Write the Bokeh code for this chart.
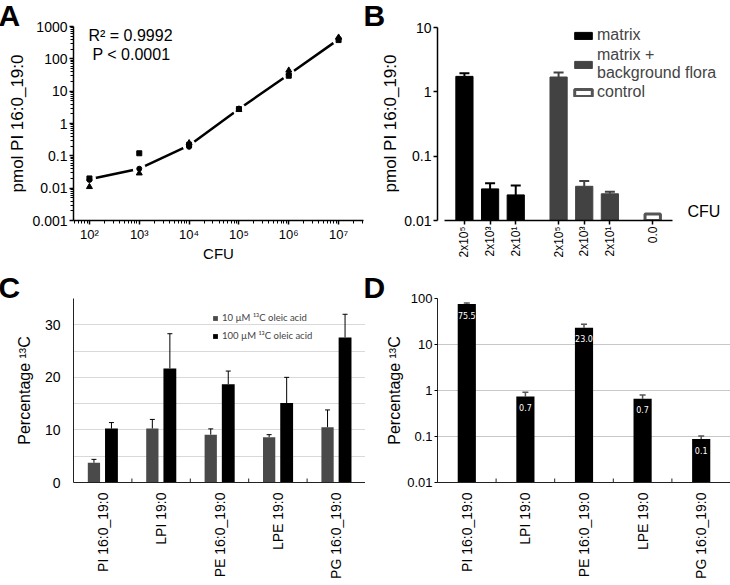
import numpy as np
from bokeh.plotting import figure
from bokeh.layouts import column, row
from bokeh.models import (FactorRange, FixedTicker, Whisker, TeeHead, ColumnDataSource,
                          Label, Legend, LegendItem)
from bokeh.transform import dodge
from bokeh.embed import file_html
from bokeh.resources import INLINE
from bokeh.core.properties import value

FONT = "Liberation Sans"

# ---------------- data: panel A ----------------
a_cfu = [1e2, 1e3, 1e4, 1e5, 1e6, 1e7]
a_rep_square = [0.020, 0.120, 0.22, 2.8, 30, 380]
a_rep_circle = [0.018, 0.040, 0.19, 2.9, 33, 420]
a_rep_triangle = [0.011, 0.029, 0.25, 2.7, 44, 460]
a_fit = [0.019, 0.040, 0.21, 2.8, 33, 400]
a_xticks = [1e2, 1e3, 1e4, 1e5, 1e6, 1e7]
a_xtick_labels = ["10²", "10³", "10⁴", "10⁵", "10⁶", "10⁷"]
a_yticks = [0.001, 0.01, 0.1, 1, 10, 100, 1000]
a_ytick_labels = ["0.001", "0.01", "0.1", "1", "10", "100", "1000"]
a_r2 = "R² = 0.9992"
a_p = "P  < 0.0001"

# ---------------- data: panel B ----------------
b_cfu_labels = ["2x10⁵", "2x10³", "2x10¹"]
b_matrix = [1.74, 0.031, 0.025]
b_matrix_err = [1.95, 0.038, 0.035]
b_mbf = [1.70, 0.034, 0.026]
b_mbf_err = [2.0, 0.041, 0.028]
b_control_label = ["0.0"]
b_control = [0.0126]
b_yticks = [0.01, 0.1, 1, 10]
b_ytick_labels = ["0.01", "0.1", "1", "10"]
b_series = ["matrix", "matrix +\nbackground flora", "control"]

# ---------------- data: panel C ----------------
c_lipids = ["PI 16:0_19:0", "LPI 19:0", "PE 16:0_19:0", "LPE 19:0", "PG 16:0_19:0"]
c_10uM = [3.75, 10.25, 9.1, 8.6, 10.5]
c_10uM_err = [4.4, 12.0, 10.2, 9.1, 13.8]
c_100uM = [10.25, 21.7, 18.7, 15.1, 27.6]
c_100uM_err = [11.4, 28.3, 21.2, 20.0, 32.0]
c_series = ["10 µM ¹³C oleic acid", "100 µM ¹³C oleic acid"]
c_yticks = [0, 10, 20, 30]
c_ygrid = [5, 10, 15, 20, 25, 30]

# ---------------- data: panel D ----------------
d_lipids = ["PI 16:0_19:0", "LPI 19:0", "PE 16:0_19:0", "LPE 19:0", "PG 16:0_19:0"]
d_pct = [75.5, 0.74, 23.0, 0.66, 0.088]
d_pct_err = [80.0, 0.92, 27.5, 0.80, 0.103]
d_yticks = [0.01, 0.1, 1, 10, 100]
d_ytick_labels = ["0.01", "0.1", "1", "10", "100"]

W = 365
H1 = 264
H2 = 321


def base_style(p):
    p.outline_line_color = None
    p.background_fill_color = "white"
    p.border_fill_color = "white"


def style_axis(ax, size="14px", label_size="17px"):
    ax.major_label_text_font = FONT
    ax.major_label_text_font_size = size
    ax.major_label_text_color = "black"
    ax.axis_label_text_font = FONT
    ax.axis_label_text_font_size = label_size
    ax.axis_label_text_font_style = "normal"
    ax.axis_label_text_color = "black"
    ax.axis_line_color = "black"


def screen_label(p, txt, x, y, size, baseline="middle"):
    p.add_layout(Label(x=x, y=y, x_units="screen", y_units="screen", text=txt,
                       text_font=FONT, text_font_size=size, text_baseline=baseline,
                       text_align="left", text_color="black"))


def letter(p, txt, offset):
    t = p.title
    t.text = txt
    t.align = "left"
    t.offset = offset
    t.standoff = -12
    t.vertical_align = "middle"
    t.text_font = FONT
    t.text_font_size = "30px"
    t.text_font_style = "bold"
    t.text_color = "black"


def legend_box(items, loc, **kw):
    return Legend(items=items, location=loc, padding=0, margin=0,
                  border_line_color=None, background_fill_alpha=0, **kw)


# ================= Panel A =================
pA = figure(width=W, height=H1, x_axis_type="log", y_axis_type="log",
            x_range=(10 ** 1.68, 10 ** 7.5), y_range=(0.001, 1000),
            output_backend="svg", toolbar_location=None,
            min_border_left=73, min_border_right=2, min_border_top=25, min_border_bottom=37)
base_style(pA)
pA.grid.visible = False
a_xminor = [k * 10.0 ** e for e in range(1, 8) for k in range(2, 10)]
a_yminor = [k * 10.0 ** e for e in range(-3, 3) for k in range(2, 10)]
pA.xaxis.ticker = FixedTicker(ticks=a_xticks, minor_ticks=a_xminor)
pA.yaxis.ticker = FixedTicker(ticks=a_yticks, minor_ticks=a_yminor)
pA.xaxis.major_label_overrides = dict(zip(a_xticks, a_xtick_labels))
pA.yaxis.major_label_overrides = dict(zip(a_yticks, a_ytick_labels))
for ax in (pA.xaxis[0], pA.yaxis[0]):
    style_axis(ax)
    ax.axis_line_width = 1.5
    ax.major_tick_line_width = 1.5
    ax.major_tick_out = 4
    ax.major_tick_in = 0
    ax.minor_tick_out = 3
    ax.minor_tick_in = 0
    ax.major_label_standoff = 2
pA.xaxis.major_label_text_font_size = "13px"
pA.xaxis.axis_label = "CFU"
pA.xaxis.axis_label_text_font_size = "15px"
pA.xaxis.axis_label_standoff = 0
pA.yaxis.axis_label = "pmol PI 16:0_19:0"
pA.yaxis.axis_label_standoff = 2

pA.line(a_cfu, a_fit, line_width=2.5, line_color="black")
pA.scatter(a_cfu, a_fit, marker="circle", size=13, fill_color="white", line_color=None)
pA.scatter(a_cfu, a_rep_square, marker="square", size=5, color="black")
pA.scatter(a_cfu, a_rep_circle, marker="circle", size=5, color="black")
pA.scatter(a_cfu, a_rep_triangle, marker="triangle", size=6, color="black")

screen_label(pA, a_r2, 15, 185, "16px")
screen_label(pA, a_p, 19, 166, "16px")
letter(pA, "A", -75)

# ================= Panel B =================
b_gp = 0.67
b_rp = 0.55
b_x_matrix = [("matrix", l) for l in b_cfu_labels]
b_x_mbf = [("mbf", l) for l in b_cfu_labels]
b_x_control = [("control", l) for l in b_control_label]
b_real = b_x_matrix + b_x_mbf + b_x_control
b_factors = b_real + [("pad", " ")]  # empty slot that leaves room for the legend / CFU

pB = figure(width=W, height=H1,
            x_range=FactorRange(*b_factors, group_padding=b_gp, factor_padding=0,
                                range_padding=b_rp, range_padding_units="absolute"),
            y_axis_type="log", y_range=(0.01, 10 ** (1 + 1 / 64.0)),
            output_backend="svg", toolbar_location=None,
            min_border_left=72, min_border_right=8, min_border_top=26, min_border_bottom=38)
base_style(pB)
pB.grid.visible = False
pB.yaxis.ticker = FixedTicker(ticks=b_yticks, minor_ticks=[])
pB.yaxis.major_label_overrides = dict(zip(b_yticks, b_ytick_labels))
pB.yaxis.bounds = (b_yticks[0], b_yticks[-1])
style_axis(pB.yaxis[0])
style_axis(pB.xaxis[0], size="12px")
for ax in (pB.xaxis[0], pB.yaxis[0]):
    ax.axis_line_width = 1.5
    ax.major_tick_line_width = 1.5
    ax.major_tick_out = 4
    ax.major_tick_in = 0
    ax.minor_tick_line_color = None
    ax.major_label_standoff = 2
pB.xaxis.bounds = (-b_rp / 2, len(b_real) + 2 * b_gp + b_rp / 2)
pB.yaxis.axis_label = "pmol PI 16:0_19:0"
pB.yaxis.axis_label_standoff = 1
pB.xaxis.major_label_orientation = np.pi / 2
pB.xaxis.group_text_font_size = "0px"
pB.xaxis.group_text_color = None
pB.xaxis.separator_line_color = None

srcB1 = ColumnDataSource(dict(x=b_x_matrix, top=b_matrix, err=b_matrix_err))
srcB2 = ColumnDataSource(dict(x=b_x_mbf, top=b_mbf, err=b_mbf_err))
srcB3 = ColumnDataSource(dict(x=b_x_control, top=b_control))
rB1 = pB.vbar(x="x", top="top", bottom=0.01, width=0.67, source=srcB1,
              fill_color="black", line_color="black")
rB2 = pB.vbar(x="x", top="top", bottom=0.01, width=0.67, source=srcB2,
              fill_color="#424242", line_color="#424242")
rB3 = pB.vbar(x="x", top="top", bottom=0.01, width=0.6, source=srcB3,
              fill_color="white", line_color="#555555", line_width=3)
for src, col in ((srcB1, "black"), (srcB2, "#424242")):
    pB.add_layout(Whisker(source=src, base="x", lower="top", upper="err", dimension="height",
                          line_color=col, line_width=2, lower_head=None,
                          upper_head=TeeHead(size=10, line_width=2, line_color=col)))

leg_kw = dict(glyph_width=22, glyph_height=9, label_text_font=FONT, label_text_font_size="16px",
              label_standoff=3, spacing=2)
pB.add_layout(legend_box([LegendItem(label=b_series[0], renderers=[rB1]),
                          LegendItem(label=b_series[1], renderers=[rB2])], (135, 138), **leg_kw))
pB.add_layout(legend_box([LegendItem(label=b_series[2], renderers=[rB3])], (135, 119), **leg_kw))
screen_label(pB, "CFU", 250, 1, "16px", baseline="bottom")
letter(pB, "B", -74)


def cat_figure(cats, y_kwargs, borders):
    p = figure(width=W, height=H2, x_range=FactorRange(*cats, range_padding=0),
               output_backend="svg", toolbar_location=None, **y_kwargs, **borders)
    base_style(p)
    p.xgrid.visible = False
    ax = p.xaxis[0]
    style_axis(ax, size="14px")
    ax.axis_line_color = "#222222"
    ax.major_tick_line_color = None
    ax.major_tick_out = 0
    ax.major_tick_in = 0
    ax.major_label_orientation = np.pi / 2
    ax.major_label_standoff = 10
    bsrc = ColumnDataSource(dict(x=cats[:-1]))
    return p, bsrc


# ================= Panel C =================
pC, bsrcC = cat_figure(c_lipids, dict(y_range=(0, 35)),
                       dict(min_border_left=73, min_border_right=0, min_border_top=32,
                            min_border_bottom=103))
pC.yaxis.ticker = FixedTicker(ticks=c_yticks, minor_ticks=[])
pC.ygrid.ticker = FixedTicker(ticks=c_ygrid)
pC.ygrid.grid_line_color = "#d9d9d9"
style_axis(pC.yaxis[0], size="14px", label_size="16px")
pC.yaxis.major_tick_line_color = None
pC.yaxis.major_tick_out = 0
pC.yaxis.minor_tick_line_color = None
pC.yaxis.axis_line_color = "#222222"
pC.yaxis.major_label_standoff = 13
pC.yaxis.axis_label = "Percentage ¹³C"
pC.yaxis.axis_label_standoff = 9
pC.scatter(x=dodge("x", 0.5, range=pC.x_range), y=0, source=bsrcC, marker="dash",
           angle=np.pi / 2, size=8, line_color="#222222", line_width=1)

srcC = ColumnDataSource(dict(x=c_lipids, lo=c_10uM, lo_err=c_10uM_err,
                             hi=c_100uM, hi_err=c_100uM_err))
rC1 = pC.vbar(x=dodge("x", -0.15, range=pC.x_range), top="lo", width=0.21, source=srcC,
              fill_color="#4a4a4a", line_color=None)
rC2 = pC.vbar(x=dodge("x", 0.15, range=pC.x_range), top="hi", width=0.22, source=srcC,
              fill_color="black", line_color=None)
for off, lo, hi in ((-0.15, "lo", "lo_err"), (0.15, "hi", "hi_err")):
    pC.add_layout(Whisker(source=srcC, base=dodge("x", off, range=pC.x_range), lower=lo, upper=hi,
                          dimension="height", line_color="black", line_width=1, lower_head=None,
                          upper_head=TeeHead(size=5, line_width=1, line_color="black")))
pC.add_layout(legend_box([LegendItem(label=c_series[0], renderers=[rC1]),
                          LegendItem(label=c_series[1], renderers=[rC2])], (139, 141),
                         glyph_width=6, glyph_height=6, label_text_font="Lato",
                         label_text_font_size="9.5px", label_standoff=4, spacing=7))
letter(pC, "C", -75)

# ================= Panel D =================
pD, bsrcD = cat_figure(d_lipids, dict(y_axis_type="log", y_range=(0.01, 100)),
                       dict(min_border_left=72, min_border_right=0, min_border_top=34,
                            min_border_bottom=102))
pD.yaxis.ticker = FixedTicker(ticks=d_yticks, minor_ticks=[])
pD.yaxis.major_label_overrides = dict(zip(d_yticks, d_ytick_labels))
pD.ygrid.grid_line_color = "#c8c8c8"
style_axis(pD.yaxis[0], size="13px", label_size="16px")
pD.yaxis.major_tick_out = 3
pD.yaxis.major_tick_in = 0
pD.yaxis.minor_tick_line_color = None
pD.yaxis.axis_line_color = "#222222"
pD.yaxis.major_label_standoff = 2
pD.yaxis.axis_label = "Percentage ¹³C"
pD.yaxis.axis_label_standoff = 1
pD.scatter(x=dodge("x", 0.5, range=pD.x_range), y=0.01, source=bsrcD, marker="dash",
           angle=np.pi / 2, size=8, line_color="#222222", line_width=1)

srcD = ColumnDataSource(dict(x=d_lipids, top=d_pct, err=d_pct_err,
                             lbl=[f"{v:.1f}" for v in d_pct]))
pD.vbar(x="x", top="top", bottom=0.01, width=0.31, source=srcD,
        fill_color="black", line_color=None)
pD.add_layout(Whisker(source=srcD, base="x", lower="top", upper="err", dimension="height",
                      line_color="#555555", line_width=1.5, lower_head=None,
                      upper_head=TeeHead(size=6, line_width=1.5, line_color="#555555")))
pD.text(x="x", y="top", text="lbl", source=srcD, y_offset=11, text_align="center",
        text_baseline="middle", text_color="white", text_font=value("DejaVu Sans"),
        text_font_size="8px")
letter(pD, "D", -74)

layout = column(row(pA, pB), row(pC, pD))
open("out.html", "w").write(file_html(layout, INLINE))
